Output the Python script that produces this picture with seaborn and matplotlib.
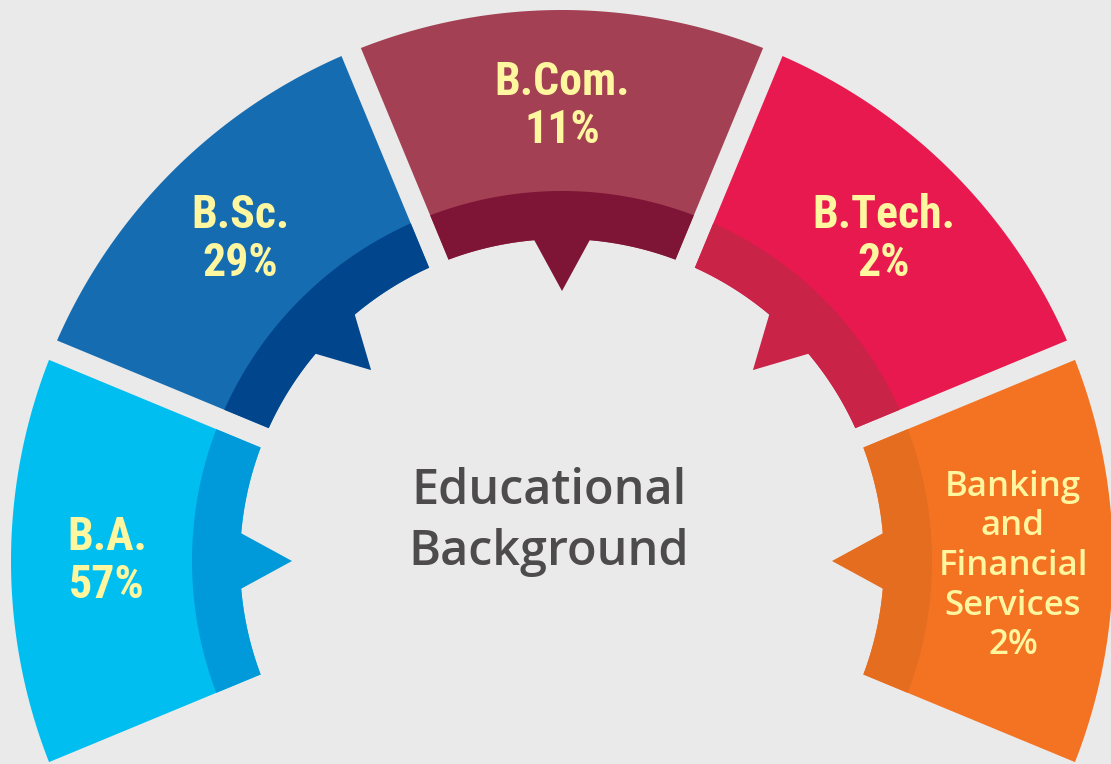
import numpy as np
import matplotlib
matplotlib.use("Agg")
import matplotlib.pyplot as plt
from matplotlib.patches import Polygon
import seaborn as sns

# segments from left to right round the half ring
categories = ["B.A.", "B.Sc.", "B.Com.", "B.Tech.", "Banking\nand\nFinancial\nServices"]
shares = [57, 29, 11, 2, 2]
outer_colors = ["#00BFF0", "#166CB1", "#A34053", "#E7194E", "#F47322"]
inner_colors = ["#0099DA", "#01458C", "#7E1436", "#C92347", "#E46D20"]
center_title = "Educational\nBackground"

sns.set_theme(style="white", rc={"figure.facecolor": "#EAEAEA",
                                 "axes.facecolor": "#EAEAEA"})

W, H = 1111, 764
fig = plt.figure(figsize=(W / 100, H / 100), dpi=100)
ax = fig.add_axes([0, 0, 1, 1])
ax.set_xlim(0, W)
ax.set_ylim(0, H)
ax.set_aspect("equal")
ax.axis("off")

# ring geometry (pixels)
cx, cy = 562, H - 561
r_tip, r_in, r_band, r_out = 270, 322, 370, 551
half = 22.5   # half of the 45 deg slot for each segment
gap = 10.5    # half width of the white gap
ptr_w = 30


def arc(r, a0, a1, n=80):
    t = np.radians(np.linspace(a0, a1, n))
    return np.column_stack([cx + r * np.cos(t), cy + r * np.sin(t)])


def ring(mid, r0, r1):
    d0 = np.degrees(np.arcsin(gap / r0))
    d1 = np.degrees(np.arcsin(gap / r1))
    outer = arc(r1, mid - half + d1, mid + half - d1)
    inner = arc(r0, mid + half - d0, mid - half + d0)
    return np.vstack([outer, inner])


def pointer(mid):
    t = np.radians(mid)
    u = np.array([np.cos(t), np.sin(t)])
    v = np.array([-np.sin(t), np.cos(t)])
    c = np.array([cx, cy])
    base = c + (r_in + 3) * u
    return np.array([base + ptr_w * v, c + r_tip * u, base - ptr_w * v])


label_font = ["Roboto Condensed", "DejaVu Sans"]
for i, (cat, share) in enumerate(zip(categories, shares)):
    mid = 180 - 45 * i
    ax.add_patch(Polygon(ring(mid, r_in, r_out), closed=True,
                         facecolor=outer_colors[i], edgecolor="none"))
    ax.add_patch(Polygon(ring(mid, r_in, r_band), closed=True,
                         facecolor=inner_colors[i], edgecolor="none"))
    ax.add_patch(Polygon(pointer(mid), closed=True,
                         facecolor=inner_colors[i], edgecolor="none"))

    t = np.radians(mid)
    if "\n" in cat:
        r_lab = 451
        ax.text(cx + r_lab * np.cos(t), cy + r_lab * np.sin(t) - 5,
                f"{cat}\n{share}%", ha="center", va="center",
                multialignment="center", color="#FFF6A0", fontsize=25,
                family=["Open Sans", "DejaVu Sans"], fontweight="semibold",
                linespacing=1.22)
    else:
        r_lab = 455
        ax.text(cx + r_lab * np.cos(t), cy + r_lab * np.sin(t),
                f"{cat}\n{share}%", ha="center", va="center",
                multialignment="center", color="#FFF6A0", fontsize=33,
                family=label_font, fontweight="bold", fontstretch="condensed",
                linespacing=1.12)

ax.text(549, H - 522, center_title, ha="center", va="center",
        multialignment="center", color="#4D4B4C", fontsize=35,
        family=["Open Sans", "DejaVu Sans"], fontweight="semibold",
        linespacing=1.3)

fig.savefig("out.png", dpi=100, facecolor=fig.get_facecolor())
